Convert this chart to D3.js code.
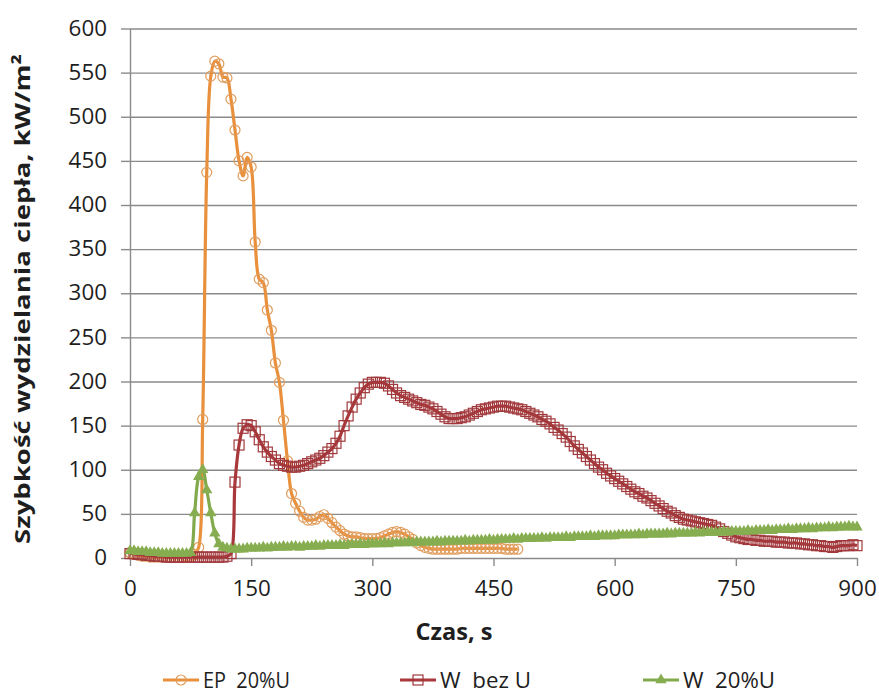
<!DOCTYPE html>
<html><head><meta charset="utf-8">
<script src="https://cdn.jsdelivr.net/npm/d3@7"></script>
<style>body{margin:0;background:#fff} svg{display:block} text{font-family:"Open Sans",sans-serif;fill:#1e1e1e}</style>
</head><body><svg id="c" width="879" height="697"></svg>
<script>
// sampling step of every series, seconds
const timeStep = 5;
// EP 20%U, 0..480 s
const epValues = [
  6,4,3,2,2,1,1,1,1,1,
  1,1,1,1,2,2,4,12,157,437,
  546,563,560,545,544,520,485,450,433,454,
  443,358,316,312,281,258,221,199,156,110,
  73,62,53,46,43,43,44,47,49,45,
  40,35,31,27,25,24,24,23,22,22,
  22,22,23,25,27,29,30,29,27,24,
  21,17,14,12,11,10,10,10,10,10,
  10,10,11,11,11,11,11,11,11,11,
  11,11,11,10,10,10,10
];
// W bez U, 0..900 s
const wBezUValues = [
  5,5,4,4,3,3,2,2,2,1,
  1,1,1,1,1,1,1,1,1,1,
  1,1,1,1,2,5,86,128,147,151,
  150,143,134,126,120,115,111,107,105,104,
  103,103,104,105,107,109,111,113,116,120,
  124,130,138,150,161,171,180,187,193,197,
  199,199,199,198,195,191,187,184,182,180,
  178,176,174,173,171,169,166,163,160,158,
  158,158,159,160,162,164,166,168,169,170,
  171,172,172,172,171,170,169,168,166,164,
  162,160,157,155,152,148,145,141,137,132,
  127,123,119,115,111,107,103,100,96,93,
  90,87,84,81,78,75,73,70,68,65,
  62,59,56,53,51,48,46,44,43,42,
  41,40,39,38,37,35,33,30,28,26,
  24,23,22,21,21,20,20,19,19,19,
  18,18,18,17,17,17,16,16,15,15,
  14,14,13,13,12,13,14,14,14,15,
  14
];
// W 20%U, 0..900 s
const w20Values = [
  8,8,7,7,7,6,6,6,5,5,
  5,5,5,5,5,6,51,92,100,77,
  51,28,16,12,11,10,10,10,10,11,
  11,11,11,12,11,12,12,12,13,12,
  13,13,12,13,13,13,14,13,14,14,
  14,14,15,14,15,15,15,16,15,16,
  16,16,16,17,16,17,17,17,17,18,
  17,18,18,18,18,18,19,18,19,19,
  19,19,19,20,19,20,20,20,20,21,
  20,21,21,21,21,22,21,22,22,22,
  22,22,23,22,23,23,23,23,24,23,
  24,24,24,24,25,24,25,25,25,25,
  25,26,26,26,26,26,27,26,27,27,
  27,27,27,28,27,28,28,28,28,28,
  29,28,29,29,29,29,29,30,29,30,
  30,30,30,31,30,31,31,31,32,31,
  32,32,32,33,32,33,33,33,34,33,
  34,34,34,35,34,35,35,35,36,35,
  35
];
const seriesNames = ["EP  20%U", "W  bez U", "W  20%U"];
const xTickValues = [0, 150, 300, 450, 600, 750, 900];
const yTickValues = [0, 50, 100, 150, 200, 250, 300, 350, 400, 450, 500, 550, 600];
const xTitle = "Czas, s";
const yTitle = "Szybkość wydzielania ciepła, kW/m²";

const svg = d3.select("#c");
const L = 130, R = 857, T = 28.5, B = 558;
const x = d3.scaleLinear().domain([0, 900]).range([L, R]);
const y = d3.scaleLinear().domain([0, 600]).range([B, T]);
const gridColor = "#8a8a8a";
const digitW = 12.8;

// gridlines
const grid = svg.append("g").attr("transform", `translate(${L},0)`)
  .call(d3.axisLeft(y).tickValues(yTickValues.filter(v => v > 0)).tickSize(-(R - L)).tickFormat(""));
grid.select(".domain").remove();
grid.selectAll("line").attr("stroke", gridColor).attr("stroke-width", 1.4);

// y axis
const ya = svg.append("g").attr("transform", `translate(${L},0)`)
  .call(d3.axisLeft(y).tickValues(yTickValues).tickSize(9).tickSizeOuter(0).tickPadding(14));
ya.select(".domain").attr("stroke", gridColor).attr("stroke-width", 1.4);
ya.selectAll("line").attr("stroke", gridColor).attr("stroke-width", 1.4);
ya.selectAll("text").style("font-size", "21px")
  .attr("textLength", d => String(d).length * digitW).attr("lengthAdjust", "spacingAndGlyphs");

// x axis
const xa = svg.append("g").attr("transform", `translate(0,${B})`)
  .call(d3.axisBottom(x).tickValues(xTickValues).tickSize(8).tickSizeOuter(0));
xa.select(".domain").attr("stroke", gridColor).attr("stroke-width", 1.4);
xa.selectAll("line").attr("stroke", gridColor).attr("stroke-width", 1.4);
xa.selectAll("text").style("font-size", "21px").attr("y", 31).attr("dy", "0.35em")
  .attr("textLength", d => String(d).length * digitW).attr("lengthAdjust", "spacingAndGlyphs");

// titles
svg.append("text").attr("x", 454).attr("y", 632).attr("dy", "0.35em").attr("text-anchor", "middle")
  .style("font-size", "23px").style("font-weight", "bold")
  .attr("textLength", 77).attr("lengthAdjust", "spacingAndGlyphs").text(xTitle);
svg.append("text").attr("transform", "translate(22,299) rotate(-90)").attr("dy", "0.35em")
  .attr("text-anchor", "middle").style("font-size", "22px").style("font-weight", "bold")
  .attr("textLength", 490).attr("lengthAdjust", "spacingAndGlyphs").text(yTitle);

const series = [
  {name: seriesNames[0], values: epValues, line: "#E8903C", mark: "#E09D5E", shape: "circle", lw: 87},
  {name: seriesNames[1], values: wBezUValues, line: "#A8383B", mark: "#A1393C", shape: "square", lw: 91},
  {name: seriesNames[2], values: w20Values, line: "#82AA4C", mark: "#86AE50", shape: "triangle", lw: 92}
];

const lineGen = d3.line().x((d, i) => x(i * timeStep)).y(d => y(d)).curve(d3.curveCatmullRom.alpha(0.5));
const tri = d3.symbol(d3.symbolTriangle, 56);

function drawMarker(g, shape, color, cx, cy) {
  if (shape === "circle") {
    g.append("circle").attr("cx", cx).attr("cy", cy).attr("r", 5)
      .attr("fill", "none").attr("stroke", color).attr("stroke-width", 1.2);
  } else if (shape === "square") {
    g.append("rect").attr("x", cx - 5).attr("y", cy - 5).attr("width", 10).attr("height", 10)
      .attr("fill", "none").attr("stroke", color).attr("stroke-width", 1.2);
  } else {
    g.append("path").attr("d", tri).attr("transform", `translate(${cx},${cy})`).attr("fill", color);
  }
}

series.forEach(s => {
  const g = svg.append("g");
  g.append("path").datum(s.values).attr("d", lineGen).attr("fill", "none")
    .attr("stroke", s.line).attr("stroke-width", 3.2).attr("stroke-linejoin", "round");
  s.values.forEach((v, i) => drawMarker(g, s.shape, s.mark, x(i * timeStep), y(v)));
});

// legend
const legendX = [163, 400, 643];
const legendY = 680;
series.forEach((s, k) => {
  const g = svg.append("g");
  const x0 = legendX[k];
  g.append("line").attr("x1", x0).attr("x2", x0 + 36).attr("y1", legendY).attr("y2", legendY)
    .attr("stroke", s.line).attr("stroke-width", 3.2);
  drawMarker(g, s.shape, s.mark, x0 + 18, legendY);
  g.append("text").attr("x", x0 + 40).attr("y", legendY).attr("dy", "0.35em")
    .attr("xml:space", "preserve").style("white-space", "pre")
    .style("font-size", "22px").attr("textLength", s.lw).attr("lengthAdjust", "spacingAndGlyphs")
    .text(s.name);
});
</script></body></html>
